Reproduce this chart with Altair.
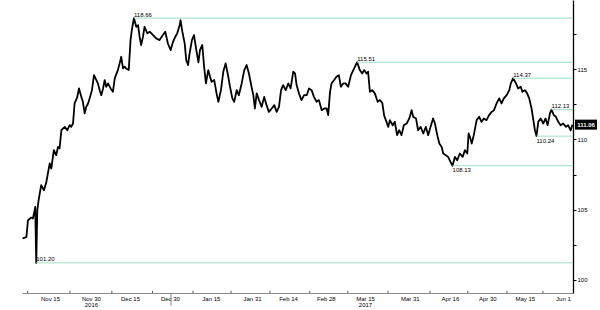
import altair as alt
import pandas as pd

# x = calendar days since 2016-11-01, price = USD/JPY
days = [3.4, 4.9, 5.5, 6.8, 7.4, 8.1, 8.3, 8.7, 9.1, 9.6, 10.6, 11.7, 12.6, 13.9, 14.5, 15.5,
        16.4, 17.1, 17.7, 18.4, 19.7, 20.7, 21.6, 22.2, 22.9, 23.5, 24.5, 25.2, 26.1, 26.7,
        27.4, 28.0, 28.7, 29.3, 30.2, 31.0, 31.9, 32.5, 33.2, 33.8, 34.5, 35.1, 35.7, 36.4,
        37.4, 38.3, 39.0, 40.2, 40.9, 41.5, 42.2, 42.8, 43.4, 44.4, 45.1, 45.6, 46.4, 47.3,
        48.0, 48.6, 49.2, 49.9, 50.5, 51.6, 52.5, 53.8, 55.0, 56.3, 57.6, 58.5, 59.5, 60.6,
        61.5, 62.4, 63.1, 64.1, 64.4, 65.1, 66.0, 66.6, 67.3, 67.9, 68.8, 69.6, 70.5, 71.3,
        71.9, 72.8, 73.5, 74.2, 75.1, 75.8, 76.4, 77.4, 78.3, 79.0, 80.0, 80.9, 81.8, 82.6,
        83.5, 84.4, 85.1, 86.1, 86.9, 88.0, 89.0, 89.9, 90.8, 91.8, 92.5, 93.1, 93.8, 94.7,
        95.7, 96.7, 97.6, 98.5, 99.6, 100.6, 101.5, 102.4, 103.2, 104.0, 105.0, 106.0, 106.9,
        107.9, 108.6, 109.2, 110.1, 111.1, 112.1, 113.1, 114.0, 115.0, 115.9, 116.9, 117.8,
        118.9, 119.9, 120.8, 121.4, 122.1, 122.7, 123.7, 124.6, 125.5, 126.3, 127.2, 128.1,
        129.1, 130.2, 131.1, 132.0, 132.6, 133.6, 134.5, 135.3, 136.2, 136.8, 137.5, 138.4,
        139.4, 140.5, 141.4, 142.3, 143.0, 143.9, 144.6, 145.2, 146.3, 147.1, 148.0, 148.8,
        149.7, 150.6, 151.7, 152.7, 153.6, 154.2, 155.3, 156.1, 157.1, 158.1, 159.1, 160.0,
        160.9, 161.9, 162.6, 163.5, 164.3, 165.2, 165.8, 166.8, 167.7, 168.6, 169.4, 170.3,
        171.2, 172.2, 173.3, 174.2, 175.1, 175.6, 176.1, 176.8, 177.6, 178.7, 179.7, 180.6,
        181.5, 182.5, 183.5, 184.5, 185.4, 186.4, 187.4, 188.3, 189.2, 190.3, 191.3, 191.9,
        192.8, 193.9, 194.7, 195.7, 196.4, 197.3, 198.2, 199.0, 199.9, 200.5, 201.2, 201.8,
        202.5, 203.4, 204.4, 205.3, 206.1, 207.0, 207.6, 208.5, 209.3, 210.2, 211.1, 212.1,
        213.2, 214.0, 215.0, 215.7]
prices = [102.95, 103.04, 104.24, 104.43, 104.36, 104.95, 105.19, 101.20, 104.95, 105.66, 106.74,
          106.38, 106.97, 108.29, 107.93, 109.24, 108.88, 109.47, 109.36, 110.66, 110.90, 110.66,
          111.02, 110.90, 111.14, 112.57, 113.00, 113.64, 113.04, 112.69, 111.86, 112.33, 112.57,
          112.93, 113.52, 114.59, 114.24, 114.00, 113.52, 113.16, 113.64, 114.24, 113.76, 114.00,
          113.64, 113.40, 114.36, 114.95, 115.43, 115.90, 115.07, 115.19, 115.07, 114.95, 117.09,
          117.80, 118.66, 118.04, 118.16, 117.33, 116.74, 117.33, 118.04, 117.57, 117.69, 117.45,
          117.21, 117.09, 117.45, 117.69, 116.86, 116.38, 116.97, 117.33, 117.57, 118.16, 118.52,
          117.69, 116.86, 115.66, 115.31, 116.14, 117.09, 117.45, 116.38, 115.50, 116.38, 116.74,
          115.19, 114.00, 114.95, 114.47, 114.11, 114.24, 113.29, 112.69, 113.52, 114.83, 115.43,
          114.71, 113.76, 112.93, 112.69, 113.52, 113.16, 114.00, 114.95, 115.31, 114.71, 113.76,
          113.16, 112.21, 113.29, 112.81, 112.33, 113.04, 112.45, 111.97, 112.21, 112.45, 111.97,
          112.33, 113.52, 113.88, 113.52, 114.00, 113.64, 114.83, 114.71, 113.88, 113.29, 112.81,
          113.16, 113.16, 113.64, 113.52, 113.04, 112.69, 112.81, 112.09, 112.21, 112.21, 111.74,
          113.40, 114.00, 114.24, 114.47, 114.59, 113.76, 114.00, 114.00, 113.76, 114.59, 114.95,
          115.31, 115.51, 114.95, 114.71, 114.95, 114.71, 114.83, 113.40, 113.52, 113.29, 112.69,
          112.81, 112.60, 111.70, 111.26, 110.90, 111.38, 111.02, 111.26, 110.31, 110.66, 110.31,
          111.02, 111.14, 111.50, 112.09, 111.62, 111.50, 110.66, 110.90, 110.43, 110.90, 110.31,
          110.90, 111.50, 111.14, 110.31, 109.71, 109.47, 109.00, 108.88, 108.76, 108.40, 108.13,
          108.76, 108.52, 109.00, 108.76, 109.24, 109.00, 110.43, 110.19, 109.71, 110.31, 111.38,
          111.62, 111.26, 111.50, 111.38, 111.74, 111.97, 112.09, 112.57, 112.93, 112.57, 112.93,
          113.16, 113.52, 114.00, 114.37, 114.00, 113.64, 113.76, 113.40, 113.52, 113.29, 112.93,
          112.21, 111.50, 110.66, 110.24, 111.26, 111.50, 111.14, 111.50, 111.02, 111.86, 112.13,
          111.74, 111.62, 111.26, 111.02, 111.14, 110.90, 111.02, 110.66, 111.06]

level_values = [118.66, 115.51, 114.37, 112.13, 110.24, 108.13, 101.20]
level_text = ["118.66", "115.51", "114.37", "112.13", "110.24", "108.13", "101.20"]
level_days = [46.4, 132.6, 192.8, 207.6, 201.8, 169.4, 8.7]
level_side = ["above", "above", "above", "above", "below", "below", "above"]
level_dx = [-1, 0, 1, 0, 0, -3, 1]

label_pos = [14.0, 29.8, 44.9, 60.3, 76.1, 92.0, 105.9, 120.5, 135.6, 152.9, 168.4, 182.8, 197.3, 212.0]
label_text = ["Nov 15", "Nov 30|2016", "Dec 15", "Dec 30", "Jan 15", "Jan 31", "Feb 14",
              "Feb 28", "Mar 15|2017", "Mar 31", "Apr 16", "Apr 30", "May 15", "Jun 1"]
tick_pos = [5.4, 21.7, 37.9, 53.6, 69.2, 83.9, 98.9, 114.3, 129.0, 144.5, 160.7, 175.3, 190.4, 204.3]
year_break = [60.7]
y_ticks = [100, 102.5, 105, 107.5, 110, 112.5, 115, 117.5]
last_value = 111.06
last_text = "111.06"

x_dom = [3.2, 215.9]
y_dom = [99.05, 119.95]
FONT = "Liberation Sans"
GREEN = "#9edfc3"

xs = alt.Scale(domain=x_dom, nice=False, zero=False)
ys = alt.Scale(domain=y_dom, nice=False, zero=False)

price_df = pd.DataFrame({"day": days, "price": prices})
lev_df = pd.DataFrame({"day": level_days, "value": level_values, "text": level_text,
                       "side": level_side, "dx": level_dx, "end": x_dom[1]})
tick_df = pd.DataFrame({"day": tick_pos})
yb_df = pd.DataFrame({"day": year_break})

pos_list = "[" + ",".join(repr(p) for p in label_pos) + "]"
txt_list = "[" + ",".join("'" + t + "'" for t in label_text) + "]"
label_expr = f"split({txt_list}[indexof({pos_list}, datum.value)], '|')"

line = alt.Chart(price_df).mark_line(color="black", strokeWidth=1.8, strokeJoin="round").encode(
    x=alt.X("day:Q", scale=xs, axis=alt.Axis(
        values=label_pos, labelExpr=label_expr, ticks=False, grid=False, title=None,
        domainColor="#8a8a8a", domainWidth=1, labelFont=FONT, labelFontSize=6,
        labelColor="black", labelPadding=2, labelLineHeight=6, labelOverlap=False,
        labelFlush=False, labelBound=False)),
    y=alt.Y("price:Q", scale=ys, axis=alt.Axis(
        orient="right", values=y_ticks, labelExpr="datum.value % 5 == 0 ? datum.label : ''",
        format="d", grid=False, title=None, tickSize=3, tickColor="black", tickWidth=1,
        domainColor="black", domainWidth=1.3, labelFont=FONT, labelFontSize=6,
        labelColor="black", labelPadding=1, labelOverlap=False, labelFlush=False)),
)

levels = alt.Chart(lev_df).mark_rule(color=GREEN, strokeWidth=1).encode(
    x=alt.X("day:Q", scale=xs), x2="end:Q", y=alt.Y("value:Q", scale=ys))

def level_labels(side, baseline, dy):
    return alt.Chart(lev_df).transform_filter(alt.datum.side == side).mark_text(
        align="left", baseline=baseline, dy=dy, font=FONT, fontSize=6, color="black").encode(
        x=alt.X("day:Q", scale=xs), y=alt.Y("value:Q", scale=ys), text="text:N",
        xOffset=alt.XOffset("dx:Q", scale=None))

lab_above = level_labels("above", "bottom", -0.5)
lab_below = level_labels("below", "top", 1.5)

ticks = alt.Chart(tick_df).mark_rule(color="#555", strokeWidth=1).encode(
    x=alt.X("day:Q", scale=xs), y=alt.datum(y_dom[0]), y2=alt.datum(y_dom[0] + 0.16))

ybreak = alt.Chart(yb_df).mark_rule(color="#888", strokeWidth=1).encode(
    x=alt.X("day:Q", scale=xs), y=alt.datum(y_dom[0]), y2=alt.datum(y_dom[0] - 0.9))

box = alt.Chart(pd.DataFrame({"v": [last_value], "e": [x_dom[1]]})).mark_rect(
    color="black", xOffset=2, x2Offset=24, yOffset=-5, y2Offset=5).encode(
    x=alt.X("e:Q", scale=xs), x2="e:Q", y=alt.Y("v:Q", scale=ys), y2="v:Q")

box_text = alt.Chart(pd.DataFrame({"v": [last_value], "e": [x_dom[1]], "t": [last_text]})).mark_text(
    align="center", baseline="middle", dx=13, font=FONT, fontSize=6, color="white",
    fontWeight="bold").encode(x=alt.X("e:Q", scale=xs), y=alt.Y("v:Q", scale=ys), text="t:N")

chart = alt.layer(line, levels, lab_above, lab_below, ticks, ybreak, box, box_text).properties(
    width=551, height=293, autosize="none",
    padding={"left": 22, "top": 0, "right": 27, "bottom": 17},
    background="white",
).configure_view(strokeWidth=0)

chart.save("out.html", embed_options={"renderer": "svg", "actions": False})
